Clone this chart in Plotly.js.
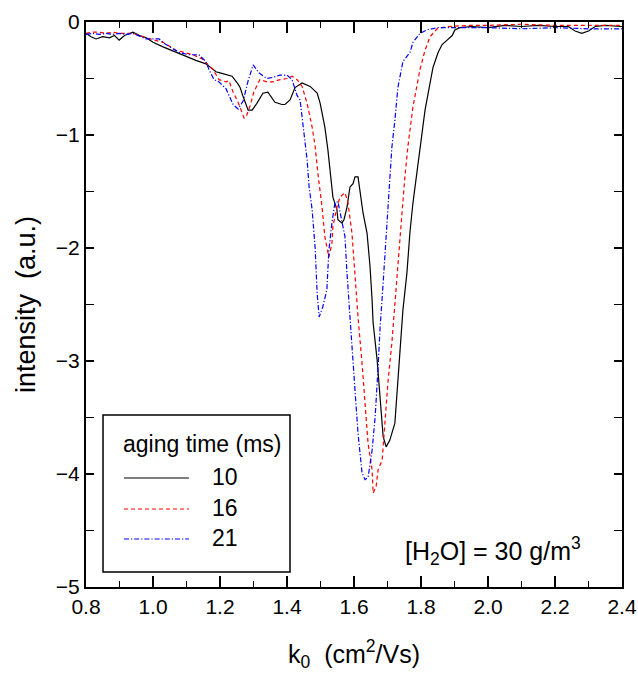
<!DOCTYPE html>
<html>
<head>
<meta charset="utf-8">
<script src="https://cdn.plot.ly/plotly-3.0.1.min.js"></script>
<style>
html,body{margin:0;padding:0;background:#fff;}
#chart{width:638px;height:675px;}
</style>
</head>
<body>
<div id="chart"></div>
<script>
// ---- data ----
const seriesNames = ["10", "16", "21"];
const seriesColors = ["#000000", "#ff0000", "#0000ff"];
const seriesDash = ["solid", "4px,3px", "5px,2px,1.2px,2px"];
const legendTitle = "aging time (ms)";
const xTickVals = [0.8, 1.0, 1.2, 1.4, 1.6, 1.8, 2.0, 2.2, 2.4];
const yTickVals = [0, -1, -2, -3, -4, -5];

const k10 = [0.800,0.815,0.830,0.850,0.870,0.885,0.899,0.915,0.940,0.960,0.980,1.000,1.030,1.069,1.100,1.128,1.158,1.188,1.200,1.227,1.236,1.254,1.260,1.269,1.284,1.296,1.310,1.328,1.343,1.364,1.385,1.394,1.409,1.424,1.445,1.469,1.490,1.499,1.513,1.522,1.528,1.537,1.549,1.552,1.564,1.570,1.579,1.588,1.597,1.603,1.612,1.618,1.627,1.639,1.648,1.654,1.657,1.669,1.678,1.687,1.696,1.707,1.722,1.731,1.737,1.746,1.758,1.767,1.776,1.788,1.803,1.812,1.827,1.836,1.851,1.863,1.878,1.893,1.901,1.916,1.950,2.000,2.050,2.100,2.150,2.200,2.240,2.260,2.280,2.300,2.320,2.350,2.400];
const i10 = [-0.10,-0.13,-0.15,-0.13,-0.14,-0.12,-0.16,-0.12,-0.09,-0.12,-0.14,-0.18,-0.22,-0.27,-0.31,-0.34,-0.37,-0.44,-0.45,-0.47,-0.48,-0.55,-0.58,-0.66,-0.78,-0.78,-0.72,-0.63,-0.62,-0.71,-0.73,-0.73,-0.69,-0.58,-0.54,-0.57,-0.63,-0.72,-0.93,-1.13,-1.31,-1.55,-1.66,-1.75,-1.78,-1.75,-1.64,-1.46,-1.43,-1.37,-1.37,-1.51,-1.69,-1.87,-2.17,-2.46,-2.66,-2.99,-3.35,-3.67,-3.76,-3.70,-3.55,-3.20,-2.90,-2.55,-2.22,-1.86,-1.60,-1.31,-0.98,-0.78,-0.54,-0.40,-0.27,-0.20,-0.16,-0.12,-0.07,-0.05,-0.04,-0.05,-0.03,-0.04,-0.03,-0.04,-0.04,-0.08,-0.10,-0.08,-0.04,-0.03,-0.04];

const k16 = [0.800,0.820,0.839,0.860,0.880,0.899,0.920,0.940,0.979,1.030,1.069,1.119,1.149,1.179,1.197,1.218,1.227,1.239,1.254,1.263,1.272,1.278,1.290,1.301,1.319,1.340,1.358,1.379,1.400,1.415,1.430,1.445,1.460,1.475,1.484,1.493,1.504,1.513,1.525,1.534,1.537,1.549,1.558,1.573,1.582,1.594,1.603,1.612,1.624,1.633,1.642,1.654,1.657,1.666,1.672,1.684,1.693,1.701,1.713,1.722,1.731,1.743,1.752,1.761,1.776,1.797,1.812,1.827,1.848,1.878,1.946,2.000,2.100,2.200,2.300,2.400];
const i16 = [-0.10,-0.09,-0.09,-0.10,-0.09,-0.10,-0.10,-0.10,-0.14,-0.18,-0.25,-0.29,-0.33,-0.42,-0.51,-0.53,-0.52,-0.62,-0.71,-0.78,-0.85,-0.84,-0.74,-0.62,-0.51,-0.53,-0.53,-0.51,-0.50,-0.48,-0.51,-0.57,-0.72,-0.93,-1.10,-1.36,-1.62,-1.90,-2.08,-1.96,-1.81,-1.64,-1.55,-1.51,-1.60,-1.87,-2.26,-2.61,-3.02,-3.37,-3.73,-3.96,-4.17,-4.11,-3.96,-3.88,-3.50,-3.20,-2.84,-2.49,-2.08,-1.70,-1.37,-1.10,-0.75,-0.42,-0.25,-0.13,-0.06,-0.04,-0.03,-0.03,-0.02,-0.03,-0.03,-0.03];

const k21 = [0.800,0.820,0.839,0.860,0.880,0.899,0.920,0.940,0.979,1.018,1.039,1.078,1.107,1.137,1.158,1.167,1.182,1.197,1.218,1.239,1.254,1.269,1.284,1.299,1.316,1.340,1.358,1.379,1.400,1.415,1.430,1.439,1.445,1.454,1.460,1.466,1.475,1.484,1.490,1.496,1.507,1.519,1.525,1.534,1.543,1.552,1.564,1.573,1.579,1.588,1.594,1.603,1.612,1.624,1.633,1.642,1.654,1.663,1.672,1.678,1.687,1.696,1.701,1.713,1.722,1.731,1.746,1.767,1.776,1.797,1.818,1.848,1.900,2.000,2.100,2.200,2.300,2.400];
const i21 = [-0.11,-0.10,-0.11,-0.10,-0.11,-0.10,-0.11,-0.10,-0.15,-0.15,-0.20,-0.27,-0.29,-0.29,-0.35,-0.42,-0.51,-0.53,-0.59,-0.73,-0.77,-0.70,-0.52,-0.38,-0.45,-0.50,-0.49,-0.47,-0.47,-0.51,-0.65,-0.69,-0.84,-1.07,-1.22,-1.46,-1.66,-2.00,-2.40,-2.61,-2.52,-2.37,-2.02,-1.78,-1.60,-1.59,-1.78,-1.90,-2.22,-2.61,-2.96,-3.26,-3.64,-3.99,-4.05,-4.03,-3.79,-3.50,-3.05,-2.70,-2.31,-1.90,-1.58,-1.11,-0.87,-0.58,-0.35,-0.27,-0.18,-0.10,-0.07,-0.05,-0.05,-0.05,-0.06,-0.05,-0.06,-0.06];

const FONT = "Liberation Sans, Arial, sans-serif";
const W = 638, H = 675;
const M = {l: 86, r: 16, t: 22, b: 88};
// pixel -> paper helpers (for legend placement only)
const px = x => (x - M.l) / (W - M.l - M.r);
const py = y => (H - M.b - y) / (H - M.t - M.b);

const xs = [k10, k16, k21], ys = [i10, i16, i21];
const traces = xs.map((x, i) => ({
  x: x, y: ys[i], name: seriesNames[i], mode: "lines", showlegend: false,
  line: {color: seriesColors[i], width: 1.2, dash: seriesDash[i]}
}));

// legend drawn as a boxed block like the original
const shapes = [{
  type: "rect", xref: "paper", yref: "paper",
  x0: px(103), x1: px(290), y0: py(572), y1: py(415),
  line: {color: "#000", width: 1.5}, fillcolor: "#fff", layer: "above"
}];
const annotations = [{
  xref: "paper", yref: "paper", x: px(121), y: py(444), xanchor: "left", yanchor: "middle",
  text: legendTitle, showarrow: false, font: {size: 23}
}];
const rowY = [478, 509, 539];
seriesNames.forEach((n, i) => {
  shapes.push({
    type: "line", xref: "paper", yref: "paper",
    x0: px(124), x1: px(189), y0: py(rowY[i]), y1: py(rowY[i]),
    line: {color: seriesColors[i], width: 1.2, dash: seriesDash[i]}, layer: "above"
  });
  annotations.push({
    xref: "paper", yref: "paper", x: px(210), y: py(rowY[i] - 1), xanchor: "left", yanchor: "middle",
    text: n, showarrow: false, font: {size: 23}
  });
});
annotations.push({
  xref: "paper", yref: "paper", x: px(493), y: py(551), xanchor: "center", yanchor: "middle",
  text: "[H<sub>2</sub>O] = 30 g/m<sup>3</sup>", showarrow: false, font: {size: 25}
});

const layout = {
  width: W, height: H,
  margin: M,
  paper_bgcolor: "#fff", plot_bgcolor: "#fff",
  font: {family: FONT, size: 20, color: "#000"},
  showlegend: false,
  xaxis: {
    range: [0.8, 2.4], tickvals: xTickVals, ticktext: xTickVals.map(v => v.toFixed(1)),
    ticks: "inside", ticklen: 11, tickwidth: 1.8, tickcolor: "#000",
    minor: {dtick: 0.1, tick0: 0.8, ticks: "inside", ticklen: 6, tickwidth: 1.8, tickcolor: "#000"},
    showline: true, linewidth: 2, linecolor: "#000", mirror: "ticks",
    showgrid: false, zeroline: false,
    tickfont: {size: 21},
    title: {text: "k<sub>0</sub>  (cm<sup>2</sup>/Vs)", font: {size: 25}, standoff: 28}
  },
  yaxis: {
    range: [-5, 0], tickvals: yTickVals,
    ticks: "inside", ticklen: 8, tickwidth: 1.8, tickcolor: "#000",
    minor: {dtick: 0.5, tick0: 0, ticks: "inside", ticklen: 8, tickwidth: 1.8, tickcolor: "#000"},
    showline: true, linewidth: 2, linecolor: "#000", mirror: "ticks",
    showgrid: false, zeroline: false,
    tickfont: {size: 21},
    title: {text: "intensity  (a.u.)", font: {size: 27}, standoff: 12}
  },
  shapes: shapes,
  annotations: annotations
};

Plotly.newPlot("chart", traces, layout, {displayModeBar: false, staticPlot: true});
</script>
</body>
</html>
